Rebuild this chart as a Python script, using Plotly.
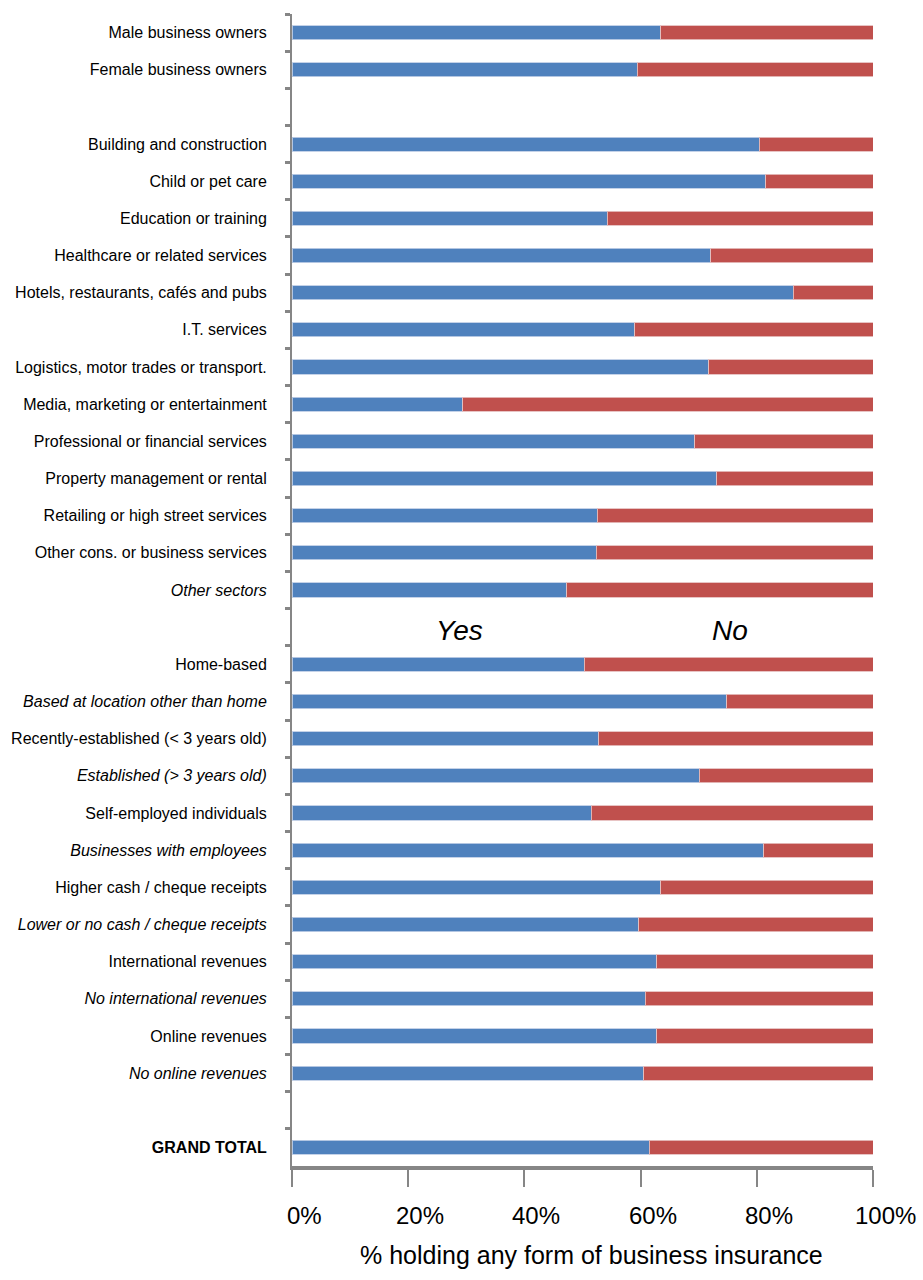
import plotly.graph_objects as go

categories = [
    "Male business owners",
    "Female business owners",
    " ",
    "Building and construction",
    "Child or pet care",
    "Education or training",
    "Healthcare or related services",
    "Hotels, restaurants, cafés and pubs",
    "I.T. services",
    "Logistics, motor trades or transport.",
    "Media, marketing or entertainment",
    "Professional or financial services",
    "Property management or rental",
    "Retailing or high street services",
    "Other cons. or business services",
    "<i>Other sectors</i>",
    "  ",
    "Home-based",
    "<i>Based at location other than home</i>",
    "Recently-established (< 3 years old)",
    "<i>Established (> 3 years old)</i>",
    "Self-employed individuals",
    "<i>Businesses with employees</i>",
    "Higher cash / cheque receipts",
    "<i>Lower or no cash / cheque receipts</i>",
    "International revenues",
    "<i>No international revenues</i>",
    "Online revenues",
    "<i>No online revenues</i>",
    "   ",
    "<b>GRAND TOTAL</b>",
]

yes_values = [63.5, 59.4, None, 80.4, 81.5, 54.3, 72.1, 86.3, 59.0, 71.7, 29.4,
              69.3, 73.1, 52.5, 52.4, 47.3, None, 50.3, 74.8, 52.8, 70.1, 51.5,
              81.2, 63.5, 59.7, 62.8, 60.8, 62.8, 60.5, None, 61.5]

no_values = [36.5, 40.6, None, 19.6, 18.5, 45.7, 27.9, 13.7, 41.0, 28.3, 70.6,
             30.7, 26.9, 47.5, 47.6, 52.7, None, 49.7, 25.2, 47.2, 29.9, 48.5,
             18.8, 36.5, 40.3, 37.2, 39.2, 37.2, 39.5, None, 38.5]

x_ticks = [0, 20, 40, 60, 80, 100]
x_tick_labels = ["0%", "20%", "40%", "60%", "80%", "100%"]
x_title = "% holding any form of business insurance"

BLUE = "#4F81BD"
RED = "#C0504D"
AXIS = "#868686"
FONT = "Arial, Liberation Sans, sans-serif"

fig = go.Figure()
fig.add_trace(go.Bar(
    y=categories, x=yes_values, orientation="h", name="Yes",
    marker=dict(color=BLUE, line=dict(color="rgba(190,205,230,0.9)", width=1)),
))
fig.add_trace(go.Bar(
    y=categories, x=no_values, orientation="h", name="No",
    marker=dict(color=RED, line=dict(color="rgba(230,190,190,0.9)", width=1)),
))

# in-chart series labels
fig.add_annotation(x=28.9, y="  ", text="<i>Yes</i>", showarrow=False, yshift=-3,
                   font=dict(family=FONT, size=28, color="#000"))
fig.add_annotation(x=75.4, y="  ", text="<i>No</i>", showarrow=False, yshift=-3,
                   font=dict(family=FONT, size=28, color="#000"))

# x tick labels (offset slightly right like the original)
for v, lab in zip(x_ticks, x_tick_labels):
    fig.add_annotation(x=v, xref="x", y=0, yref="paper", text=lab,
                       showarrow=False, xanchor="center", yanchor="middle",
                       xshift=12, yshift=-49,
                       font=dict(family=FONT, size=24, color="#000"))

# x axis title
fig.add_annotation(x=0.516, xref="paper", y=0, yref="paper", text=x_title,
                   showarrow=False, xanchor="center", yanchor="middle",
                   yshift=-89, font=dict(family=FONT, size=25, color="#000"))

fig.update_layout(
    width=923, height=1280,
    margin=dict(l=292, r=50, t=14, b=114),
    barmode="stack",
    bargap=0.62,
    showlegend=False,
    plot_bgcolor="white",
    paper_bgcolor="white",
    font=dict(family=FONT, color="#000"),
)
fig.update_yaxes(
    type="category",
    categoryorder="array", categoryarray=categories,
    autorange="reversed",
    showline=True, linecolor=AXIS, linewidth=2,
    ticks="outside", tickson="boundaries", ticklen=5, tickwidth=3, tickcolor=AXIS,
    showgrid=False, zeroline=False,
    tickfont=dict(family=FONT, size=16, color="#000"),
    ticklabelstandoff=20,
)
fig.update_xaxes(
    range=[0, 100],
    tickvals=x_ticks, showticklabels=False,
    showline=True, linecolor=AXIS, linewidth=4,
    ticks="outside", ticklen=17, tickwidth=2, tickcolor=AXIS,
    showgrid=False, zeroline=False,
)

fig.write_html("out.html")
